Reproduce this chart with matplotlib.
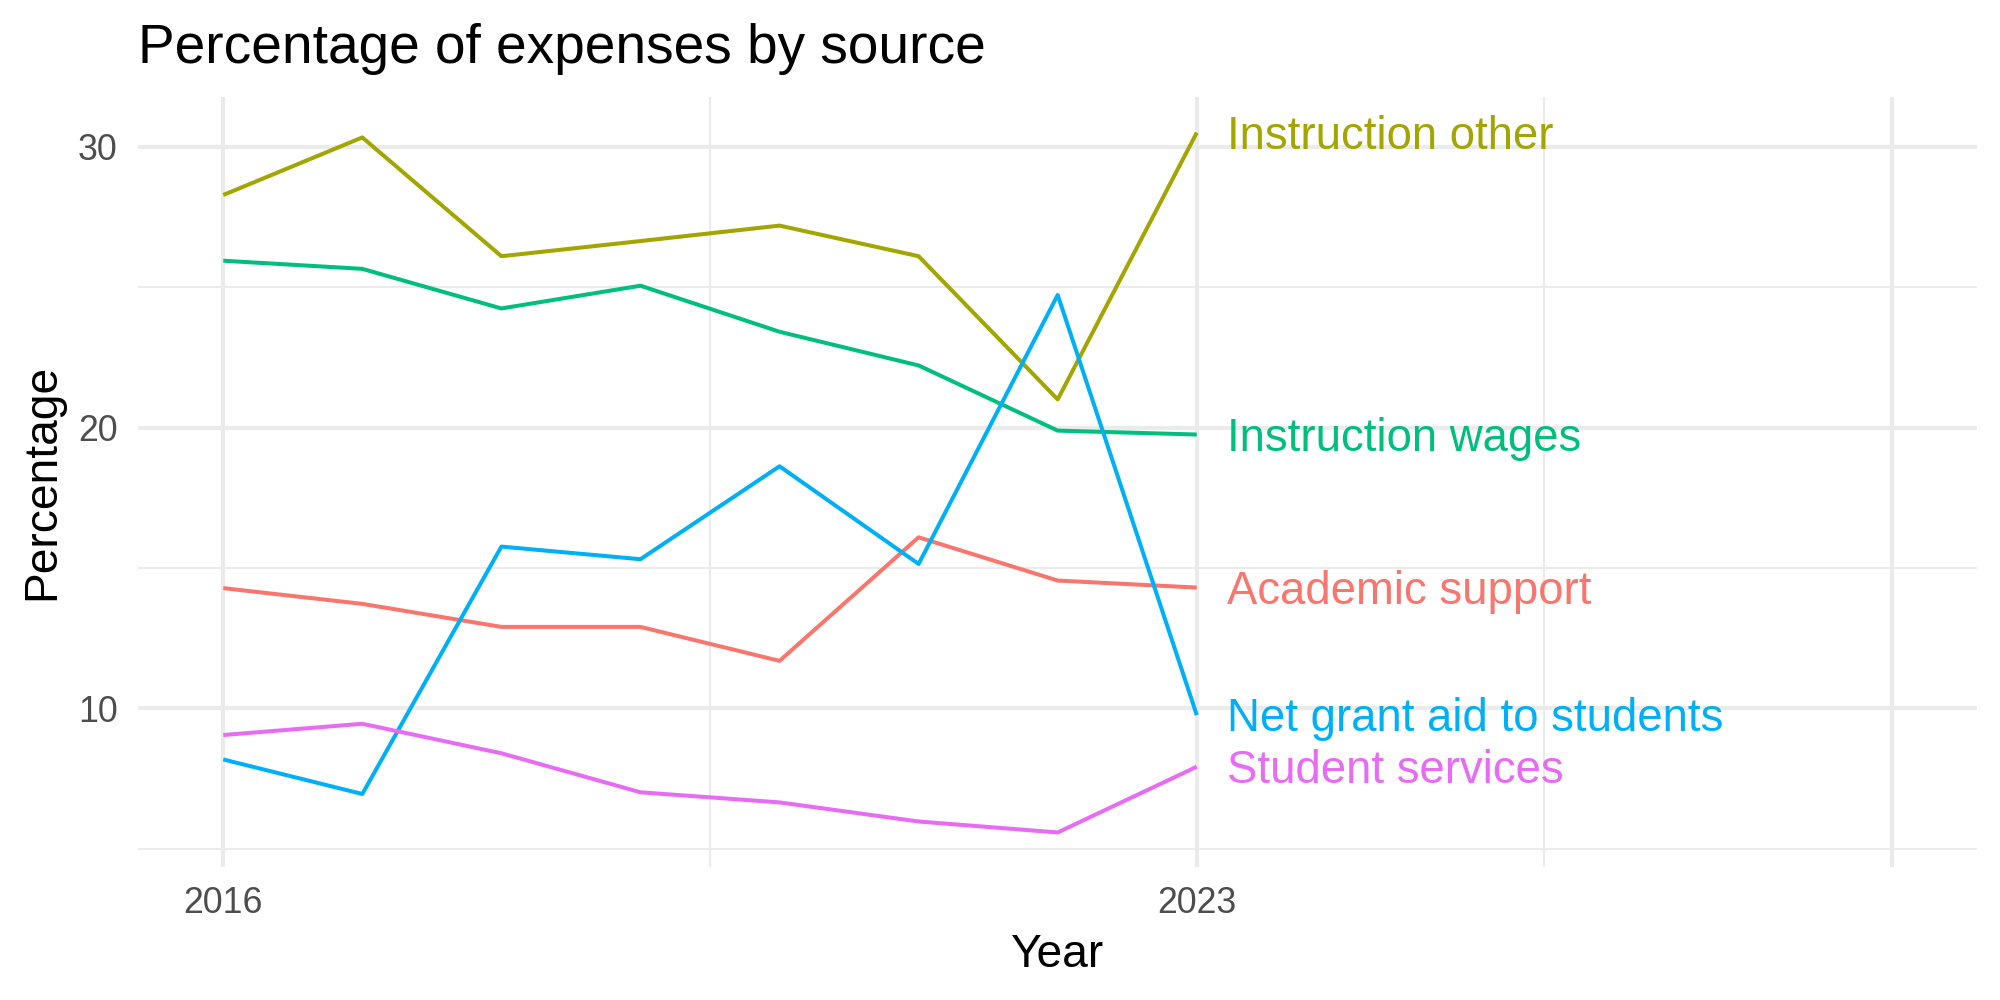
import matplotlib
matplotlib.use("Agg")
import matplotlib.pyplot as plt
from matplotlib.ticker import FixedLocator

plt.rcParams['font.family'] = ['Liberation Sans', 'DejaVu Sans']

years = [2016, 2017, 2018, 2019, 2020, 2021, 2022, 2023]
academic_support = [14.28, 13.72, 12.9, 12.9, 11.69, 16.09, 14.55, 14.3]
instruction_other = [28.28, 30.33, 26.1, 26.64, 27.19, 26.1, 21.0, 30.5]
instruction_wages = [25.94, 25.65, 24.24, 25.05, 23.41, 22.21, 19.89, 19.75]
net_grant_aid = [8.18, 6.95, 15.76, 15.31, 18.62, 15.14, 24.72, 9.76]
student_services = [9.05, 9.45, 8.4, 7.01, 6.65, 5.97, 5.58, 7.92]

series_names = ["Academic support", "Instruction other", "Instruction wages",
                "Net grant aid to students", "Student services"]
series_values = [academic_support, instruction_other, instruction_wages,
                 net_grant_aid, student_services]
colors = ['#F8766D', '#A3A500', '#00BF7D', '#00B0F6', '#E76BF3']

x_breaks = [2016, 2023, 2028]
x_labels = ["2016", "2023", ""]
x_minor = [2019.5, 2025.5]
y_breaks = [10, 20, 30]
y_minor = [5, 15, 25]

fig = plt.figure(figsize=(10, 5), dpi=200)
ax = fig.add_axes([0.0692, 0.133, 0.9193, 0.770])

for name, vals, c in zip(series_names, series_values, colors):
    ax.plot(years, vals, color=c, linewidth=1.45, solid_capstyle='butt', zorder=3)
    ax.text(years[-1] + 0.22, vals[-1] - 0.15, name, color=c, fontsize=16.4,
            ha='left', va='center', zorder=4)

ax.set_xlim(2015.39, 2028.61)
ax.set_ylim(4.35, 31.77)

ax.xaxis.set_major_locator(FixedLocator(x_breaks))
ax.set_xticklabels(x_labels)
ax.xaxis.set_minor_locator(FixedLocator(x_minor))
ax.yaxis.set_major_locator(FixedLocator(y_breaks))
ax.yaxis.set_minor_locator(FixedLocator(y_minor))

ax.grid(which='major', color='#EBEBEB', linewidth=1.5, zorder=0)
ax.grid(which='minor', color='#EBEBEB', linewidth=0.75, zorder=0)
ax.set_axisbelow(True)
for s in ax.spines.values():
    s.set_visible(False)
ax.tick_params(which='both', length=0)
ax.tick_params(axis='x', labelsize=12.9, labelcolor='#4D4D4D', pad=7)
ax.tick_params(axis='y', labelsize=12.9, labelcolor='#4D4D4D', pad=7.5)

ax.set_xlabel("Year", fontsize=16.6, labelpad=4)
ax.set_ylabel("Percentage", fontsize=16.6, labelpad=5)

fig.text(0.0692, 1 - 62.7 / 1000, "Percentage of expenses by source",
         fontsize=19.8, ha='left', va='baseline')

fig.savefig("out.png", dpi=200, facecolor='white')
